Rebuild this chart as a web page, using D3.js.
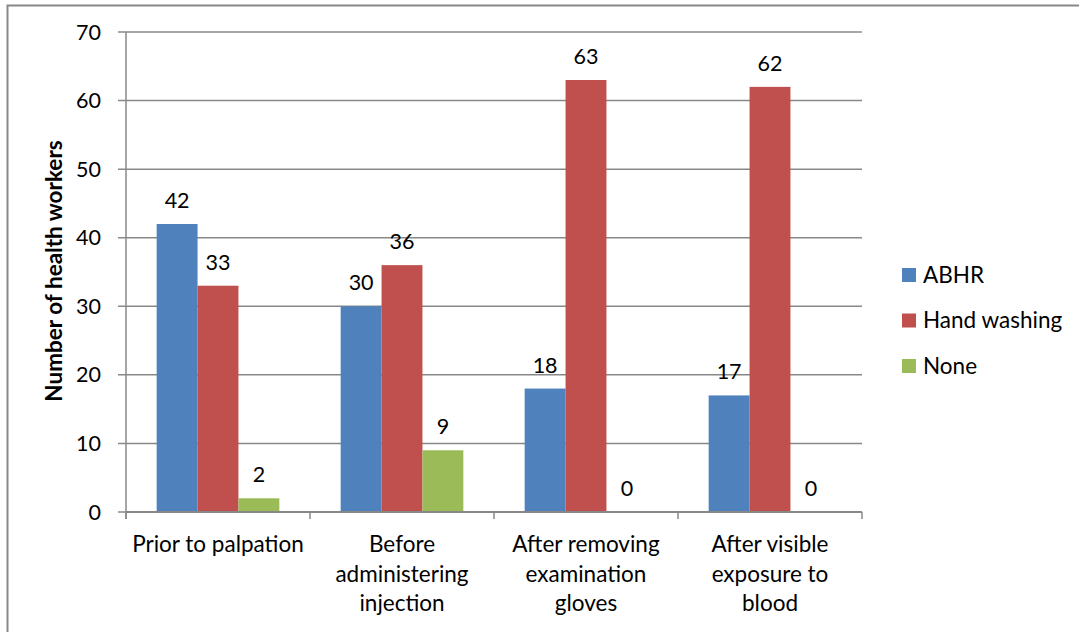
<!DOCTYPE html>
<html>
<head>
<meta charset="utf-8">
<script src="https://cdn.jsdelivr.net/npm/d3@7"></script>
<style>
  body { margin: 0; background: #fff; }
  svg text { font-family: Lato, "Open Sans", sans-serif; fill: #000; }
</style>
</head>
<body>
<svg id="chart"></svg>
<script>
const categories = [
    ["Prior to palpation"],
    ["Before", "administering", "injection"],
    ["After removing", "examination", "gloves"],
    ["After visible", "exposure to", "blood"]
];
const seriesNames = ["ABHR", "Hand washing", "None"];
const abhr = [42, 30, 18, 17];
const handWashing = [33, 36, 63, 62];
const none = [2, 9, 0, 0];
const yTicks = [0, 10, 20, 30, 40, 50, 60, 70];
const colors = ["#4F81BD", "#C0504D", "#9BBB59"];

const width = 1079, height = 632;
const plot = { left: 126, right: 862, top: 32, bottom: 512 };
const fontSize = 22.5;

function drawChart() {
    let svg = d3.select("#chart")
        .attr("width", width)
        .attr("height", height);

    // outer chart border (right and bottom run off the picture)
    svg.append("rect")
        .attr("x", 7.5).attr("y", 5.5)
        .attr("width", 1080).attr("height", 640)
        .attr("fill", "none")
        .attr("stroke", "#888")
        .attr("stroke-width", 2);

    let series = [abhr, handWashing, none];
    let keys = categories.map((c, i) => i);

    let x = d3.scaleBand()
        .domain(keys)
        .range([plot.left, plot.right]);

    // Excel gap width 150%: 3 bars + 1.5 bar widths of gap per category
    let barW = x.bandwidth() / 4.5;
    let xInner = d3.scaleBand()
        .domain(d3.range(series.length))
        .range([barW * 0.75, barW * 0.75 + barW * 3]);

    let y = d3.scaleLinear()
        .domain([0, 70])
        .range([plot.bottom, plot.top]);

    // gridlines
    svg.append("g")
        .selectAll("line")
        .data(yTicks)
        .join("line")
            .attr("x1", plot.left - 8)
            .attr("x2", plot.right)
            .attr("y1", d => y(d))
            .attr("y2", d => y(d))
            .attr("stroke", "#888")
            .attr("stroke-width", 1.5);

    // y tick labels
    svg.append("g")
        .selectAll("text")
        .data(yTicks)
        .join("text")
            .attr("x", 101)
            .attr("y", d => y(d))
            .attr("dy", "0.35em")
            .attr("text-anchor", "end")
            .attr("font-size", 21.5)
            .text(d => d);

    // bars
    let groups = svg.append("g")
        .selectAll("g")
        .data(keys)
        .join("g")
            .attr("transform", d => `translate(${x(d)},0)`);

    groups.selectAll("rect")
        .data(i => series.map((s, j) => ({ j: j, v: s[i] })))
        .join("rect")
            .attr("x", d => xInner(d.j))
            .attr("width", xInner.bandwidth())
            .attr("y", d => y(d.v))
            .attr("height", d => y(0) - y(d.v))
            .attr("fill", d => colors[d.j]);

    groups.selectAll("text")
        .data(i => series.map((s, j) => ({ j: j, v: s[i] })))
        .join("text")
            .attr("x", d => xInner(d.j) + xInner.bandwidth() / 2)
            .attr("y", d => y(d.v) - 16)
            .attr("text-anchor", "middle")
            .attr("font-size", 21.5)
            .text(d => d.v);

    // axes lines
    svg.append("line")
        .attr("x1", plot.left).attr("x2", plot.left)
        .attr("y1", plot.top).attr("y2", plot.bottom + 7)
        .attr("stroke", "#888").attr("stroke-width", 1.5);
    svg.append("line")
        .attr("x1", plot.left).attr("x2", plot.right)
        .attr("y1", plot.bottom).attr("y2", plot.bottom)
        .attr("stroke", "#888").attr("stroke-width", 2);

    let boundaries = keys.map(k => x(k)).concat([plot.right]);
    svg.append("g")
        .selectAll("line")
        .data(boundaries)
        .join("line")
            .attr("x1", d => d).attr("x2", d => d)
            .attr("y1", plot.bottom).attr("y2", plot.bottom + 7)
            .attr("stroke", "#888").attr("stroke-width", 1.5);

    // category labels
    let cat = svg.append("g")
        .selectAll("text")
        .data(keys)
        .join("text")
            .attr("x", d => x(d) + x.bandwidth() / 2)
            .attr("y", 552)
            .attr("text-anchor", "middle")
            .attr("font-size", fontSize);
    cat.selectAll("tspan")
        .data(d => categories[d].map(line => ({ line: line, x: x(d) + x.bandwidth() / 2 })))
        .join("tspan")
            .attr("x", d => d.x)
            .attr("dy", (d, i) => i === 0 ? 0 : 29.5)
            .text(d => d.line);

    // y axis title
    svg.append("text")
        .attr("transform", "translate(62,271) rotate(-90)")
        .attr("text-anchor", "middle")
        .attr("font-size", 22.5)
        .attr("font-weight", "bold")
        .text("Number of health workers");

    // legend
    let legend = svg.append("g")
        .selectAll("g")
        .data(seriesNames)
        .join("g")
            .attr("transform", (d, i) => `translate(902,${275 + i * 45.5})`);
    legend.append("rect")
        .attr("x", 0).attr("y", -7)
        .attr("width", 14).attr("height", 14)
        .attr("fill", (d, i) => colors[i]);
    legend.append("text")
        .attr("x", 21)
        .attr("dy", "0.35em")
        .attr("font-size", fontSize)
        .text(d => d);
}

drawChart();
</script>
</body>
</html>
